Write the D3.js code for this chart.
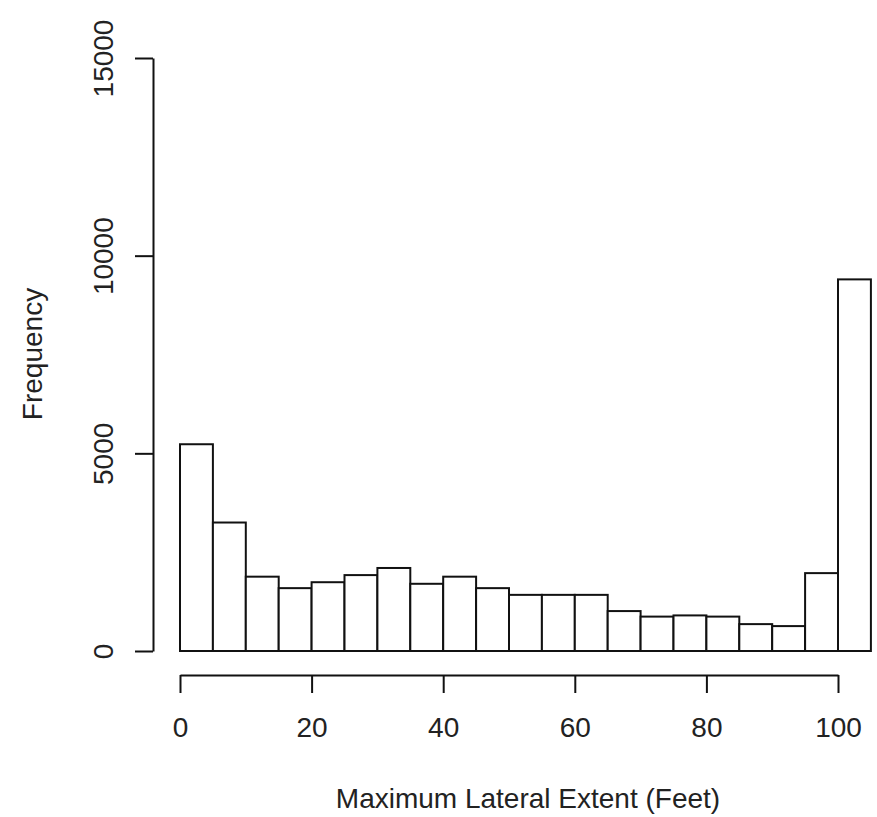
<!DOCTYPE html>
<html>
<head>
<meta charset="utf-8">
<script src="https://cdn.jsdelivr.net/npm/d3@7"></script>
<style>
html,body{margin:0;padding:0;background:#fff;}
svg{display:block;}
text{font-family:"Liberation Sans",Arial,sans-serif;fill:#222;}
</style>
</head>
<body>
<svg id="chart" width="877" height="817"></svg>
<script>
// Histogram bins (lower edges, width 5)
const binStarts = [0,5,10,15,20,25,30,35,40,45,50,55,60,65,70,75,80,85,90,95,100];
const binWidth = 5;
const frequencies = [5230,3250,1880,1590,1740,1920,2100,1700,1880,1590,1420,1420,1420,1010,870,900,870,680,630,1970,9400];
const xTicks = [0,20,40,60,80,100];
const yTicks = [0,5000,10000,15000];
const xLabel = "Maximum Lateral Extent (Feet)";
const yLabel = "Frequency";

const svg = d3.select("#chart");
const x = d3.scaleLinear().domain([0,100]).range([180,838]);
const y = d3.scaleLinear().domain([0,15000]).range([651,58]);

// bars
svg.append("g").selectAll("rect").data(binStarts).join("rect")
  .attr("x", d => x(d))
  .attr("width", d => x(d+binWidth) - x(d))
  .attr("y", (d,i) => y(frequencies[i]))
  .attr("height", (d,i) => y(0) - y(frequencies[i]))
  .attr("fill", "#fff")
  .attr("stroke", "#111")
  .attr("stroke-width", 2);

// x axis
const xAxis = d3.axisBottom(x).tickValues(xTicks).tickSize(18).tickSizeOuter(0).tickPadding(6).tickFormat(d3.format("d"));
const gx = svg.append("g").attr("transform","translate(0,675)").call(xAxis);
gx.select(".domain").attr("stroke","#111").attr("stroke-width",2);
gx.selectAll(".tick line").attr("stroke","#111").attr("stroke-width",2);
gx.selectAll(".tick text").attr("y", 62).attr("dy", null)
  .style("font-size","28px").attr("fill","#222");

// y axis
const yAxis = d3.axisLeft(y).tickValues(yTicks).tickSize(18).tickSizeOuter(0).tickFormat(d3.format("d"));
const gy = svg.append("g").attr("transform","translate(153,0)").call(yAxis);
gy.select(".domain").attr("stroke","#111").attr("stroke-width",2);
gy.selectAll(".tick line").attr("stroke","#111").attr("stroke-width",2);
gy.selectAll(".tick text")
  .attr("x", null).attr("dy", null)
  .attr("transform","translate(-40,0) rotate(-90)")
  .attr("text-anchor","middle")
  .style("font-size","28px").attr("fill","#222");

// axis titles
svg.append("text").attr("x", 528).attr("y", 808).attr("text-anchor","middle")
  .style("font-size","28px").text(xLabel);
svg.append("text").attr("transform","translate(42,354) rotate(-90)").attr("text-anchor","middle")
  .style("font-size","28px").text(yLabel);
</script>
</body>
</html>
